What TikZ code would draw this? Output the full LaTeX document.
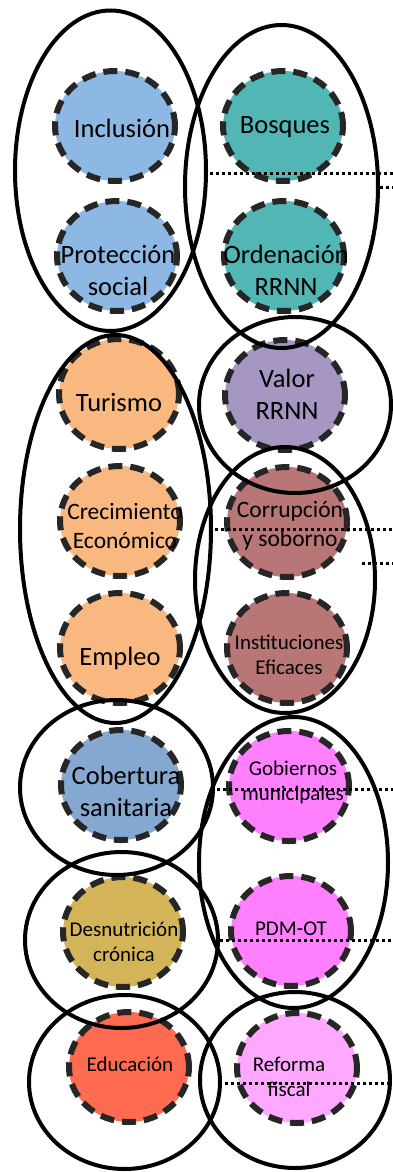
\documentclass[tikz,border=0pt]{standalone}
\usepackage{fontspec}
\setmainfont{Carlito}
\usepackage{tikz}
\usetikzlibrary{shapes}
\definecolor{borde}{HTML}{262626}
\definecolor{social}{HTML}{8DB8E3}
\definecolor{recursos}{HTML}{52B6B4}
\definecolor{valor}{HTML}{A696C2}
\definecolor{economia}{HTML}{F8B880}
\definecolor{instituciones}{HTML}{B87676}
\definecolor{salud}{HTML}{85A8D0}
\definecolor{gobierno}{HTML}{FF80FF}
\definecolor{nutricion}{HTML}{D4B458}
\definecolor{educacion}{HTML}{FF6B50}
\definecolor{fiscal}{HTML}{FFA8FF}
\tikzstyle{objetivo}=[ellipse, draw=borde, line width=6pt, dash pattern=on 14pt off 8pt, minimum width=120pt, minimum height=110pt, inner sep=0pt]
\tikzstyle{grupo}=[ellipse, draw=black, line width=4pt, inner sep=0pt]
\tikzstyle{enlace}=[line width=3pt, dash pattern=on 3pt off 3pt]
\tikzstyle{tgrande}=[align=center, inner sep=0pt, font=\fontsize{26.5}{32}\selectfont]
\tikzstyle{tmedio}=[align=center, inner sep=0pt, font=\fontsize{23.5}{29}\selectfont]
\tikzstyle{tpeq}=[align=center, inner sep=0pt, font=\fontsize{21}{25}\selectfont]
\newcommand{\objetivo}[6]{
	\node[objetivo, fill=#3] (#1) at (#2) {};
	\node[#4] (#1t) at (#5) {#6};}
\newcommand{\grupo}[4]{
	\node[grupo, minimum width=#3, minimum height=#4] (#1) at (#2) {};}

\begin{document}
\begin{tikzpicture}[x=1pt, y=-1pt]
	\useasboundingbox (0,0) rectangle (393,1172);

	\objetivo{inc}{115,126}{social}{tgrande}{122,128}{Inclusión}
	\objetivo{pro}{117,256}{social}{tgrande}{118,270}{Protección\\social}
	\objetivo{bos}{283,126}{recursos}{tgrande}{285,127}{Bosques}
	\objetivo{ord}{284,256}{recursos}{tgrande}{286,270}{Ordenación\\RRNN}

	\objetivo{tur}{119,394}{economia}{tgrande}{119,402}{Turismo}
	\objetivo{cre}{120,521}{economia}{tmedio}{125,526}{Crecimiento\\Económico}
	\objetivo{emp}{120,648}{economia}{tgrande}{120,658}{Empleo}
	\objetivo{val}{285,395}{valor}{tgrande}{287,394}{Valor\\RRNN}
	\objetivo{cor}{287,522}{instituciones}{tmedio}{290,526}{Corrupción\\y soborno}
	\objetivo{ins}{287,648}{instituciones}{tpeq}{289,655}{Instituciones\\Eficaces}

	\objetivo{cob}{121,785}{salud}{tgrande}{126,791}{Cobertura\\sanitaria}
	\objetivo{des}{123,932}{nutricion}{tpeq}{124,942}{Desnutrición\\crónica}
	\objetivo{edu}{129,1067}{educacion}{tpeq}{130,1064}{Educación}
	\objetivo{gob}{289,786}{gobierno}{tpeq}{293,782}{Gobiernos\\municipales}
	\objetivo{pdm}{291,931}{gobierno}{tpeq}{291,929}{PDM-OT}
	\objetivo{ref}{297,1068}{fiscal}{tpeq}{289,1077}{Reforma\\fiscal}

	\grupo{g1}{110.5,170.75}{191pt}{320.5pt}
	\grupo{g2}{281.5,186.5}{193pt}{323pt}
	\grupo{g3}{115.5,529}{191pt}{388pt}
	\grupo{g4}{295,405}{192pt}{176pt}
	\grupo{g5}{285,580}{180pt}{266pt}
	\grupo{g6}{116.5,787.5}{193pt}{175pt}
	\grupo{g7}{293.5,862.5}{189pt}{291pt}
	\grupo{g8}{121.5,940}{193pt}{176pt}
	\grupo{g9}{124.5,1082}{191pt}{174pt}
	\grupo{g10}{295,1080}{190pt}{176pt}

	\coordinate (e1a) at (210,173);
	\coordinate (e1b) at (393,173);
	\coordinate (e2a) at (380,187);
	\coordinate (e2b) at (393,187);
	\coordinate (e3a) at (215,529);
	\coordinate (e3b) at (393,529);
	\coordinate (e4a) at (362,563);
	\coordinate (e4b) at (393,563);
	\coordinate (e5a) at (217,789);
	\coordinate (e5b) at (393,789);
	\coordinate (e6a) at (220,940);
	\coordinate (e6b) at (393,940);
	\coordinate (e7a) at (225,1083);
	\coordinate (e7b) at (393,1083);

	\draw[enlace] (e1a) -- (e1b);
	\draw[enlace] (e2a) -- (e2b);
	\draw[enlace] (e3a) -- (e3b);
	\draw[enlace] (e4a) -- (e4b);
	\draw[enlace] (e5a) -- (e5b);
	\draw[enlace] (e6a) -- (e6b);
	\draw[enlace] (e7a) -- (e7b);
\end{tikzpicture}
\end{document}
